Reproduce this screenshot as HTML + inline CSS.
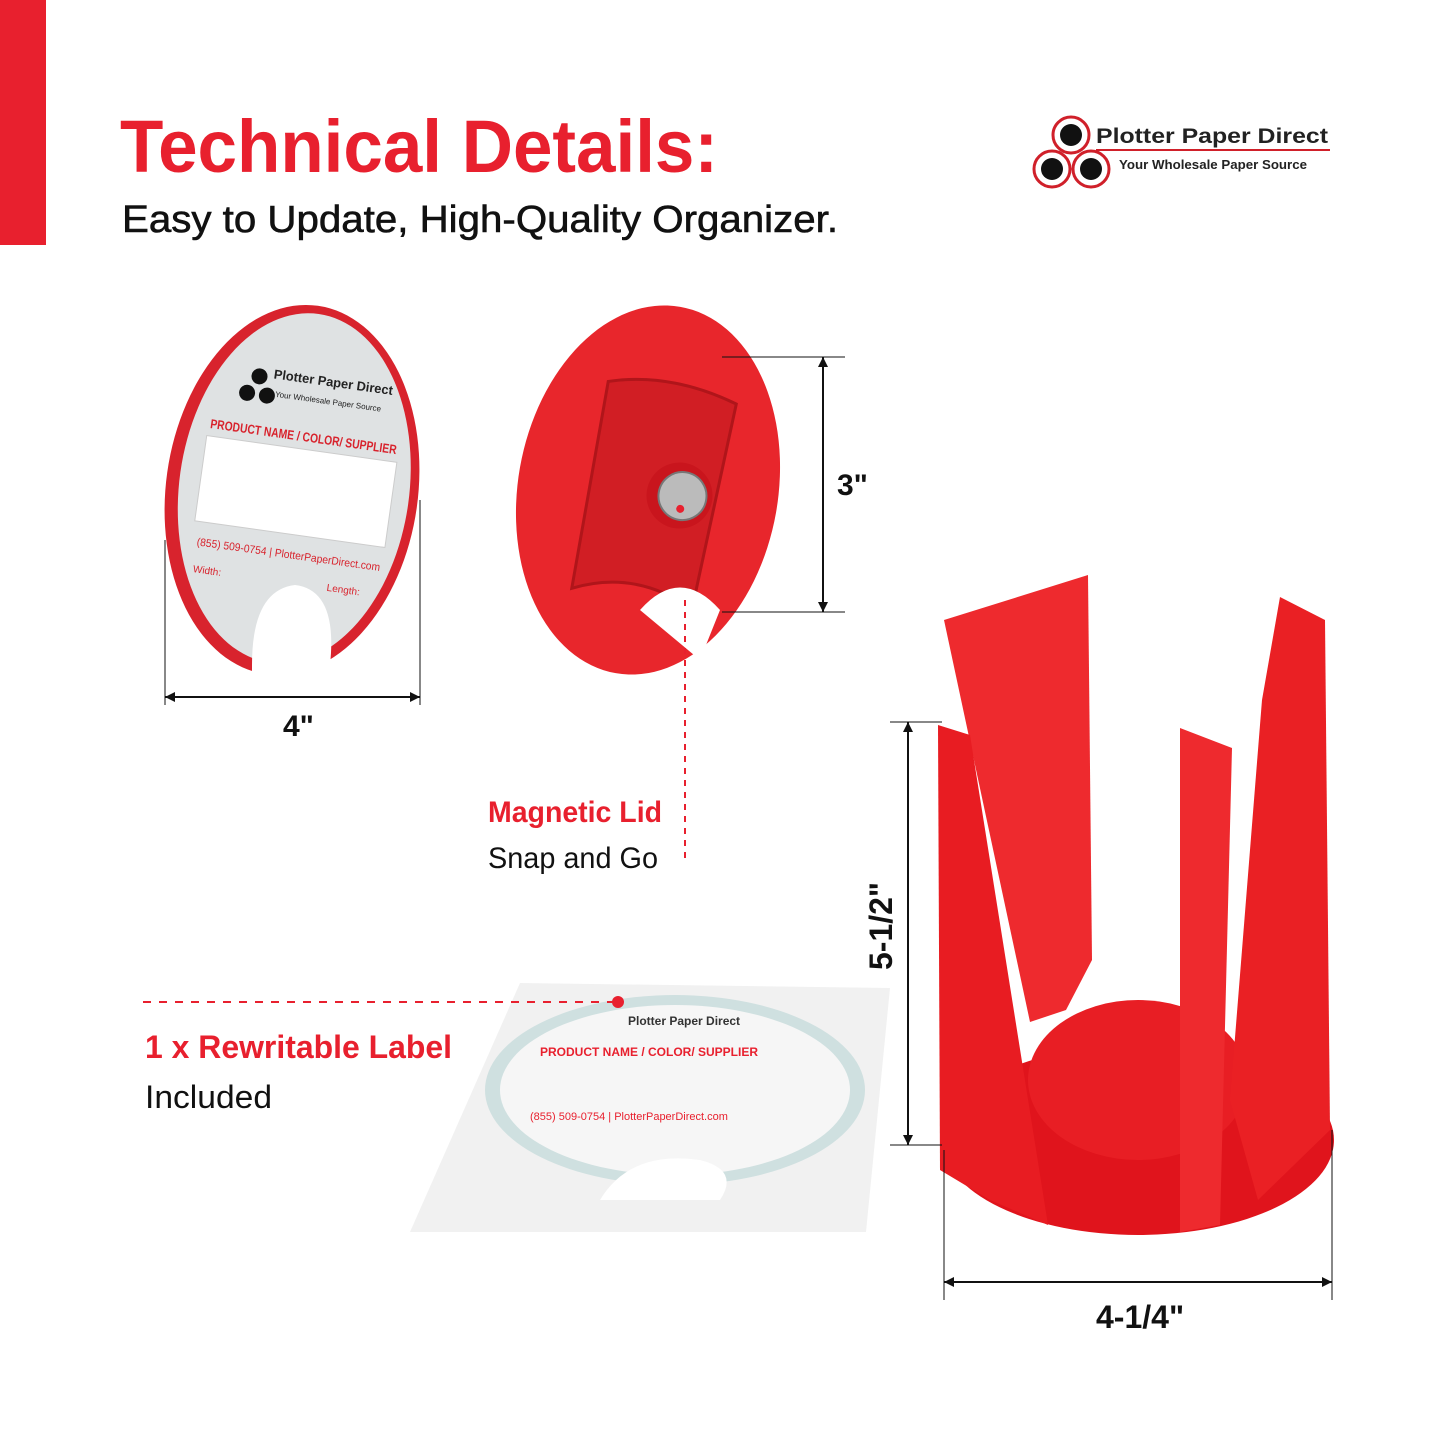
<!DOCTYPE html>
<html><head><meta charset="utf-8"><style>
html,body{margin:0;padding:0;background:#fff}
svg{display:block}
text{font-family:"Liberation Sans",sans-serif}
</style></head><body>
<svg width="1445" height="1445" viewBox="0 0 1445 1445" xmlns="http://www.w3.org/2000/svg">
<rect x="0" y="0" width="46" height="245" fill="#e8202e"/>
<text x="120" y="172" font-size="74" font-weight="bold" fill="#e8202e" textLength="598" lengthAdjust="spacingAndGlyphs">Technical Details:</text>
<text x="122" y="232" font-size="38" fill="#111" stroke="#111" stroke-width="0.6" textLength="716" lengthAdjust="spacingAndGlyphs">Easy to Update, High-Quality Organizer.</text>
<g>
<circle cx="1071" cy="135" r="18" fill="#fff" stroke="#d0202a" stroke-width="3"/><circle cx="1071" cy="135" r="11" fill="#111"/>
<circle cx="1052" cy="169" r="18" fill="#fff" stroke="#d0202a" stroke-width="3"/><circle cx="1052" cy="169" r="11" fill="#111"/>
<circle cx="1091" cy="169" r="18" fill="#fff" stroke="#d0202a" stroke-width="3"/><circle cx="1091" cy="169" r="11" fill="#111"/>
<text x="1096" y="143" font-size="21" font-weight="bold" fill="#222" textLength="232" lengthAdjust="spacingAndGlyphs">Plotter Paper Direct</text>
<line x1="1096" y1="150" x2="1330" y2="150" stroke="#d0202a" stroke-width="2"/>
<text x="1119" y="169" font-size="13" font-weight="bold" fill="#222" textLength="188" lengthAdjust="spacingAndGlyphs">Your Wholesale Paper Source</text>
</g>
<!-- label disk -->
<g transform="rotate(8 292 490)">
<ellipse cx="292" cy="490" rx="126" ry="186" fill="#d8232d"/>
<ellipse cx="294" cy="488" rx="115" ry="176" fill="#dfe2e3"/>
<rect x="200" y="448" width="192" height="86" fill="#fff" stroke="#ccc"/>
<text x="202" y="440" font-size="13" fill="#d8232d" font-weight="bold" textLength="188" lengthAdjust="spacingAndGlyphs">PRODUCT NAME / COLOR/ SUPPLIER</text>
<text x="258" y="382" font-size="13" font-weight="bold" fill="#222" textLength="120" lengthAdjust="spacingAndGlyphs">Plotter Paper Direct</text>
<text x="262" y="400" font-size="8" fill="#222">Your Wholesale Paper Source</text>
<text x="205" y="558" font-size="11" fill="#d8232d" textLength="185" lengthAdjust="spacingAndGlyphs">(855) 509-0754 | PlotterPaperDirect.com</text>
<text x="205" y="585" font-size="10" fill="#d8232d">Width:</text>
<text x="340" y="585" font-size="10" fill="#d8232d">Length:</text>
<circle cx="244" cy="382" r="8" fill="#111"/><circle cx="234" cy="400" r="8" fill="#111"/><circle cx="254" cy="400" r="8" fill="#111"/>
</g>
<path d="M252 665 Q252 590 295 585 Q338 590 330 665 L330 700 L252 700Z" fill="#fff"/>
<line x1="165" y1="697" x2="420" y2="697" stroke="#111" stroke-width="2"/>
<line x1="165" y1="540" x2="165" y2="705" stroke="#111"/><line x1="420" y1="500" x2="420" y2="705" stroke="#111"/>
<path d="M165 697 l10 -5 v10z M420 697 l-10 -5 v10z" fill="#111"/>
<text x="283" y="736" font-size="30" font-weight="bold" fill="#111">4"</text>
<!-- lid -->
<g transform="rotate(10 648 490)">
<ellipse cx="648" cy="490" rx="130" ry="186" fill="#e8262c"/>
<path d="M590 390 Q650 370 720 390 L712 600 Q650 570 590 600Z" fill="#d11e24" stroke="#b0151a" stroke-width="3"/>
<circle cx="680" cy="490" r="33" fill="#c9151d"/>
<circle cx="683" cy="490" r="24" fill="#bbb" stroke="#777" stroke-width="2"/>
<circle cx="683" cy="503" r="4" fill="#e8202e"/>
</g>
<path d="M640 610 Q680 565 720 610 L700 660 Z" fill="#fff"/>
<line x1="722" y1="357" x2="845" y2="357" stroke="#111"/><line x1="722" y1="612" x2="845" y2="612" stroke="#111"/>
<line x1="823" y1="357" x2="823" y2="612" stroke="#111" stroke-width="2"/>
<path d="M823 357 l-5 10 h10z M823 612 l-5 -10 h10z" fill="#111"/>
<text x="837" y="495" font-size="30" font-weight="bold" fill="#111">3"</text>
<line x1="685" y1="600" x2="685" y2="862" stroke="#e8202e" stroke-width="2" stroke-dasharray="6 6"/>
<text x="488" y="822" font-size="30" font-weight="bold" fill="#e8202e" textLength="174" lengthAdjust="spacingAndGlyphs">Magnetic Lid</text>
<text x="488" y="868" font-size="30" fill="#111" textLength="170" lengthAdjust="spacingAndGlyphs">Snap and Go</text>
<!-- holder -->
<ellipse cx="1138" cy="1140" rx="196" ry="95" fill="#e0141c"/>
<ellipse cx="1138" cy="1080" rx="110" ry="80" fill="#e81e24"/>
<path d="M944 620 L1088 575 L1092 960 L1066 1010 L1030 1022 Z" fill="#ee2a2e"/>
<path d="M938 725 L970 735 L1048 1225 L990 1200 L940 1170Z" fill="#e81c22"/>
<path d="M1180 728 L1232 748 L1220 1225 L1180 1232Z" fill="#ee2a2e"/>
<path d="M1280 597 L1325 620 L1330 1130 L1258 1200 L1230 1100 L1262 700Z" fill="#ea2024"/>
<line x1="890" y1="722" x2="942" y2="722" stroke="#111"/><line x1="890" y1="1145" x2="942" y2="1145" stroke="#111"/>
<line x1="908" y1="722" x2="908" y2="1145" stroke="#111" stroke-width="2"/>
<path d="M908 722 l-5 10 h10z M908 1145 l-5 -10 h10z" fill="#111"/>
<text transform="translate(892 970) rotate(-90)" font-size="32" font-weight="bold" fill="#111">5-1/2"</text>
<line x1="944" y1="1150" x2="944" y2="1300" stroke="#111"/><line x1="1332" y1="1130" x2="1332" y2="1300" stroke="#111"/>
<line x1="944" y1="1282" x2="1332" y2="1282" stroke="#111" stroke-width="2"/>
<path d="M944 1282 l10 -5 v10z M1332 1282 l-10 -5 v10z" fill="#111"/>
<text x="1096" y="1328" font-size="32" font-weight="bold" fill="#111">4-1/4"</text>
<!-- sheet -->
<path d="M520 983 L890 988 L866 1232 L410 1232Z" fill="#f1f1f1"/>
<ellipse cx="675" cy="1090" rx="190" ry="95" fill="#cfe0e0"/>
<ellipse cx="675" cy="1090" rx="175" ry="85" fill="#f6f6f6"/>
<path d="M600 1200 Q630 1150 700 1160 Q740 1170 720 1200Z" fill="#fff"/>
<text x="540" y="1056" font-size="12" font-weight="bold" fill="#e8202e">PRODUCT NAME / COLOR/ SUPPLIER</text>
<text x="628" y="1025" font-size="12" font-weight="bold" fill="#333">Plotter Paper Direct</text>
<text x="530" y="1120" font-size="11" fill="#e8202e">(855) 509-0754 | PlotterPaperDirect.com</text>
<line x1="143" y1="1002" x2="618" y2="1002" stroke="#e8202e" stroke-width="2" stroke-dasharray="8 8"/>
<circle cx="618" cy="1002" r="6" fill="#e8202e"/>
<text x="145" y="1058" font-size="32" font-weight="bold" fill="#e8202e" textLength="307" lengthAdjust="spacingAndGlyphs">1 x Rewritable Label</text>
<text x="145" y="1108" font-size="32" fill="#111" textLength="127" lengthAdjust="spacingAndGlyphs">Included</text>
</svg>
</body></html>
